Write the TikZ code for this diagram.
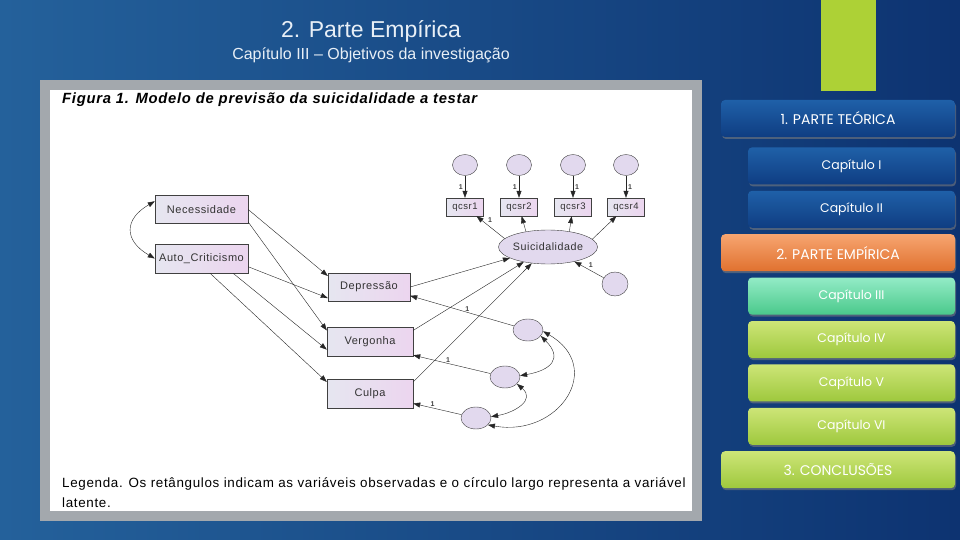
\documentclass[tikz,border=0pt]{standalone}
\usepackage{fontspec}
\setmainfont{Liberation Sans}
\newfontfamily\figfont[LetterSpace=5]{Liberation Sans}
\newfontfamily\menufont{Poppins}
\usepackage{xcolor}
\usetikzlibrary{positioning,arrows.meta,shapes.geometric,shadows}
\definecolor{bgleft}{HTML}{24619B}
\definecolor{bgright}{HTML}{0D3371}
\definecolor{titlecol}{HTML}{E8EFF6}
\definecolor{framegray}{HTML}{A3A8AD}
\definecolor{boxl}{HTML}{E6E6F0}
\definecolor{boxr}{HTML}{ECD5EF}
\definecolor{varfill}{HTML}{E2D9EE}
\definecolor{semline}{HTML}{262626}
\definecolor{barGreen}{HTML}{ADD136}
\definecolor{blueT}{HTML}{1F60A8}
\definecolor{blueB}{HTML}{0F3D82}
\definecolor{orangeT}{HTML}{F7A570}
\definecolor{orangeB}{HTML}{E0712F}
\definecolor{mintT}{HTML}{93EBC6}
\definecolor{mintB}{HTML}{4AC98B}
\definecolor{limeT}{HTML}{CDE577}
\definecolor{limeB}{HTML}{9EC83D}
\tikzset{
slidetitle/.style={
text=titlecol,
font=\fontsize{23}{27}\selectfont
},
slidesub/.style={
text=titlecol,
font=\fontsize{16}{19}\selectfont
},
figtext/.style={
anchor=west,
inner sep=0pt,
font=\figfont\fontsize{13.4}{16}\selectfont
},
obsvar/.style={
draw=black!75,
shade,
left color=boxl,
right color=boxr,
minimum width=86pt,
minimum height=29pt,
inner sep=1pt,
text=black!80,
font=\figfont\fontsize{11}{12}\selectfont
},
itemvar/.style={
obsvar,
minimum width=37pt,
minimum height=18pt,
font=\figfont\fontsize{9.5}{10}\selectfont
},
errvar/.style={
ellipse,
draw=black!75,
fill=varfill,
minimum width=30pt,
minimum height=22pt,
inner sep=0pt
},
latvar/.style={
errvar,
minimum width=98pt,
minimum height=34pt,
text=black!80,
font=\figfont\fontsize{10.7}{12}\selectfont
},
semarrow/.style={
-{Triangle[length=7pt,width=5pt]},
semline,
thin
},
covarrow/.style={
{Triangle[length=7pt,width=5pt]}-{Triangle[length=7pt,width=5pt]},
semline,
thin
},
one/.style={
inner sep=1pt,
text=black!75,
font=\bfseries\fontsize{7}{8}\selectfont
},
menubtn/.style={
rounded corners=4pt,
minimum height=37pt,
text=white,
font=\menufont\fontsize{12.5}{14}\selectfont,
drop shadow={shadow xshift=1pt,shadow yshift=-2pt,opacity=0.55}
},
partbtn/.style={menubtn,minimum width=234pt,font=\menufont\fontsize{14}{16}\selectfont},
chapbtn/.style={menubtn,minimum width=207pt},
bluebtn/.style={top color=blueT,bottom color=blueB},
orangebtn/.style={top color=orangeT,bottom color=orangeB},
mintbtn/.style={top color=mintT,bottom color=mintB},
limebtn/.style={top color=limeT,bottom color=limeB}
}

\begin{document}
\begin{tikzpicture}[x=1pt,y=-1pt]
\useasboundingbox (0,0) rectangle (960,540);
\shade[left color=bgleft,right color=bgright] (0,0) rectangle (960,540);

% slide title
\node[slidetitle] (title) at (371,31) {2. Parte Empírica};
\node[slidesub] (subtitle) at (371,55) {Capítulo III – Objetivos da investigação};

% figure panel
\fill[framegray] (40,80) rectangle (702,521);
\fill[white] (50,90) rectangle (692,511);
\node[figtext,font=\figfont\bfseries\itshape\fontsize{14.8}{17}\selectfont] (figtitle) at (62,100) {Figura 1. Modelo de previsão da suicidalidade a testar};
\node[figtext] (legend) at (62,484) {Legenda. Os retângulos indicam as variáveis observadas e o círculo largo representa a variável};
\node[figtext] (legend2) at (62,503) {latente.};

% observed variables
\node[obsvar,minimum width=93pt,minimum height=28pt] (nec) at (201.5,209.5) {Necessidade};
\node[obsvar,minimum width=93pt] (auto) at (201.5,258.5) {Auto\_Criticismo};
\node[obsvar,minimum width=82pt,minimum height=28pt] (dep) at (369,287) {Depressão};
\node[obsvar] (verg) at (370,342) {Vergonha};
\node[obsvar] (culpa) at (370,393.5) {Culpa};

% latent variable and its items
\node[latvar] (suic) at (548,247) {Suicidalidade};
\foreach \i/\x/\anc/\dx in {1/465/east/-1pt,2/519/east/-1pt,3/573/west/1pt,4/626/west/1pt}{
\node[errvar,minimum width=25pt,minimum height=21pt] (eq\i) at (\x,165) {};
\node[itemvar] (q\i) at (\x,207) {qcsr\i};
\draw[semarrow](eq\i)--node[one,anchor=\anc,xshift=\dx]{1}(q\i);
}
\foreach \i/\a in {1/169,2/145,3/36,4/10}
\draw[semarrow](suic.\a)--(q\i);
\node[one] (onesq) at (490,220) {1};

% residuals
\node[errvar,minimum width=26pt,minimum height=24pt] (es) at (615,284) {};
\node[errvar] (ed) at (528,330) {};
\node[errvar] (ev) at (505,377) {};
\node[errvar] (ec) at (476,418) {};
\draw[semarrow](es)--node[one,anchor=south west,pos=0.55]{1}(suic);
\draw[semarrow](ed)--node[one,anchor=south,pos=0.45]{1}(dep.-12);
\draw[semarrow](ev)--node[one,anchor=south,pos=0.55]{1}(verg.-17);
\draw[semarrow](ec)--node[one,anchor=south,pos=0.6]{1}(culpa.-13);

% predictors
\draw[semarrow](nec.east)--(dep.165);
\draw[semarrow](nec.-15)--(verg.165);
\draw[semarrow](auto.-10)--(dep.195);
\draw[semarrow](auto.-25)--(verg.190);
\draw[semarrow](auto.-60)--(culpa.165);
\draw[semarrow](dep.east)--(suic);
\draw[semarrow](verg.15)--(suic);
\draw[semarrow](culpa.15)--(suic);

% covariances
\draw[covarrow](nec.170) to[out=210,in=150,looseness=1.6] (auto.west);
\draw[covarrow](ed.-25) to[out=-45,in=10,looseness=1.8] (ev.5);
\draw[covarrow](ev.-30) to[out=-40,in=10,looseness=1.5] (ec.5);
\draw[covarrow](ed.-5) to[out=-30,in=-10,looseness=1.7] (ec.-30);

% chapter menu
\fill[barGreen] (821,0) rectangle (876,91);
\node[partbtn,bluebtn] (teorica) at (838,118.5) {1. PARTE TEÓRICA};
\node[chapbtn,bluebtn,below=10pt of teorica.south east,anchor=north east] (cap1) {Capítulo I};
\node[chapbtn,bluebtn,below=6pt of cap1.south east,anchor=north east] (cap2) {Capítulo II};
\node[partbtn,orangebtn,below=6pt of cap2.south east,anchor=north east] (empirica) {2. PARTE EMPÍRICA};
\node[chapbtn,mintbtn,below=6pt of empirica.south east,anchor=north east] (cap3) {Capítulo III};
\node[chapbtn,limebtn,below=6pt of cap3.south east,anchor=north east] (cap4) {Capítulo IV};
\node[chapbtn,limebtn,below=6pt of cap4.south east,anchor=north east] (cap5) {Capítulo V};
\node[chapbtn,limebtn,below=6pt of cap5.south east,anchor=north east] (cap6) {Capítulo VI};
\node[partbtn,limebtn,below=6pt of cap6.south east,anchor=north east] (conclusoes) {3. CONCLUSÕES};
\end{tikzpicture}
\end{document}
